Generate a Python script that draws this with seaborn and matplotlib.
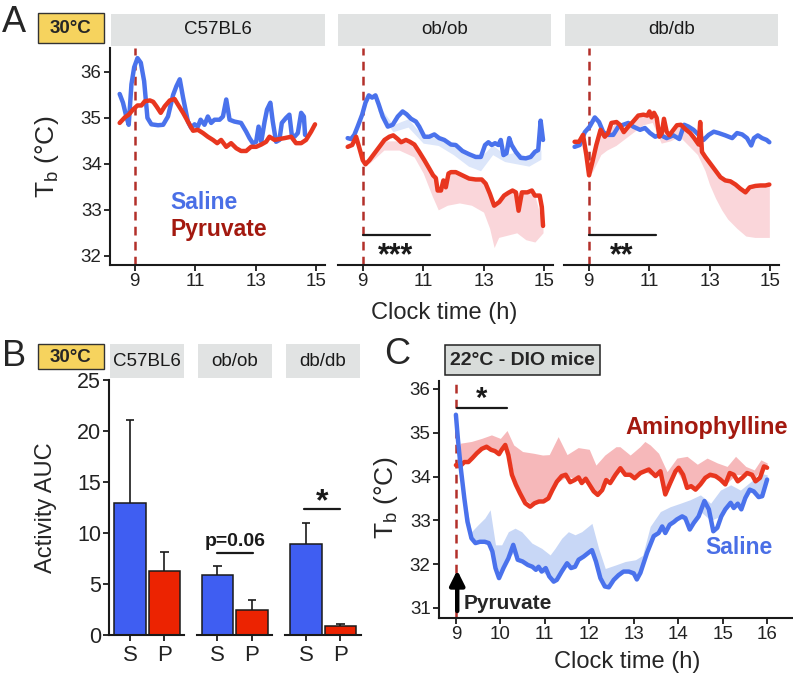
import numpy as np
import pandas as pd
import matplotlib
matplotlib.use('Agg')
import matplotlib.pyplot as plt
import seaborn as sns
from matplotlib.patches import Rectangle

# ------------------------- DATA -------------------------
strains = ['C57BL6', 'ob/ob', 'db/db']

# Panel A : C57BL6
a1_sal_t = [8.5,8.61,8.72,8.8,8.89,8.98,9.09,9.2,9.31,9.42,9.55,9.77,9.94,10.1,10.27,10.38,10.49,10.6,10.76,10.87,10.98,11.09,11.18,11.31,11.42,11.53,11.64,11.81,11.92,12.03,12.14,12.3,12.52,12.69,12.8,12.91,13.02,13.1,13.19,13.3,13.38,13.49,13.57,13.68,13.79,13.87,14.01,14.12,14.2,14.29,14.4,14.51,14.6,14.64]
a1_sal_v = [35.52,35.33,35.03,34.85,35.73,36.1,36.3,36.2,35.8,35.0,34.86,34.84,34.85,35.03,35.5,35.69,35.84,35.44,34.92,34.78,34.86,34.81,34.96,34.85,35.03,34.89,34.96,34.96,35.03,35.4,34.96,34.92,34.89,34.7,34.56,34.45,34.48,34.81,34.48,34.92,35.18,35.33,34.92,34.48,34.52,34.89,35.0,35.07,34.63,34.59,34.67,35.11,35.03,34.63]
a1_pyr_t = [8.5,8.67,8.8,8.94,9.09,9.22,9.33,9.5,9.61,9.72,9.86,9.99,10.16,10.32,10.43,10.6,10.76,10.93,11.09,11.26,11.42,11.59,11.73,11.86,12.03,12.19,12.36,12.52,12.69,12.85,13.02,13.19,13.35,13.46,13.63,13.79,13.96,14.18,14.34,14.51,14.67,14.84,14.97]
a1_pyr_v = [34.89,35.01,35.07,35.18,35.27,35.27,35.36,35.38,35.35,35.25,35.11,35.25,35.38,35.41,35.29,35.11,34.92,34.72,34.74,34.67,34.59,34.52,34.45,34.52,34.37,34.45,34.34,34.28,34.28,34.37,34.37,34.42,34.48,34.59,34.52,34.54,34.56,34.59,34.45,34.45,34.52,34.7,34.86]

# Panel A : ob/ob
a2_sal_t = [8.5,8.61,8.72,8.83,8.98,9.09,9.2,9.31,9.42,9.53,9.66,9.83,9.99,10.16,10.32,10.45,10.6,10.76,10.87,11.04,11.2,11.37,11.53,11.7,11.92,12.08,12.3,12.52,12.74,12.91,13.05,13.16,13.27,13.38,13.49,13.57,13.66,13.76,13.85,13.93,14.07,14.23,14.4,14.56,14.7,14.81,14.89,14.97]
a2_sal_v = [34.56,34.54,34.63,34.81,35.07,35.33,35.49,35.44,35.49,35.29,35.03,34.81,34.85,35.03,35.14,35.08,34.98,34.92,34.81,34.59,34.59,34.64,34.56,34.52,34.42,34.41,34.28,34.21,34.15,34.15,34.41,34.47,34.41,34.45,34.41,34.52,34.19,34.23,34.56,34.41,34.26,34.13,34.12,34.15,34.26,34.3,34.94,34.52]
a2_pyr_t = [8.5,8.65,8.78,8.89,9.0,9.09,9.22,9.39,9.55,9.72,9.88,10.01,10.16,10.27,10.43,10.56,10.71,10.87,11.04,11.2,11.33,11.42,11.48,11.59,11.67,11.75,11.84,11.92,12.08,12.3,12.52,12.74,12.94,13.07,13.21,13.35,13.52,13.68,13.82,13.96,14.07,14.16,14.27,14.45,14.6,14.7,14.86,14.93,14.97]
a2_pyr_v = [34.37,34.41,34.59,34.34,34.08,33.99,34.08,34.23,34.37,34.52,34.59,34.62,34.54,34.47,34.52,34.48,34.42,34.26,34.08,33.9,33.75,33.69,33.42,33.42,33.64,33.49,33.79,33.82,33.82,33.75,33.68,33.66,33.66,33.57,33.35,33.09,33.17,33.31,33.37,33.42,33.38,32.98,33.38,33.38,33.42,33.31,33.31,33.06,32.65]
a2_sal_rib_t = [9.5,10.0,10.5,11.0,11.5,12.0,12.5,12.9,13.3,13.7,14.1,14.5,14.9]
a2_sal_rib_hi = [35.3,34.85,34.98,34.6,34.56,34.41,34.21,34.15,34.41,34.2,34.26,34.14,34.3]
a2_sal_rib_lo = [35.15,34.7,34.8,34.45,34.4,34.2,33.95,33.85,34.2,34.05,34.0,33.95,34.1]
a2_pyr_rib_t = [9.2,9.7,10.2,10.7,11.0,11.3,11.5,11.8,12.2,12.6,13.0,13.2,13.35,13.5,13.8,14.1,14.4,14.7,14.97]
a2_pyr_rib_hi = [34.08,34.5,34.5,34.42,34.08,33.75,33.42,33.8,33.78,33.68,33.62,33.35,33.09,33.17,33.37,33.38,33.38,33.31,32.65]
a2_pyr_rib_lo = [34.0,34.3,34.3,34.15,33.8,33.3,33.0,33.1,33.15,33.1,32.95,32.6,32.18,32.4,32.45,32.5,32.35,32.3,32.5]

# Panel A : db/db
a3_sal_t = [8.53,8.7,8.87,9.03,9.2,9.34,9.48,9.64,9.81,9.98,10.14,10.31,10.47,10.7,10.86,11.03,11.2,11.36,11.58,11.8,12.0,12.16,12.3,12.47,12.64,12.8,12.97,13.14,13.3,13.52,13.75,13.91,14.08,14.24,14.38,14.47,14.6,14.74,14.89,14.98]
a3_sal_v = [34.37,34.41,34.69,34.81,35.01,34.91,34.69,34.63,34.63,34.81,34.85,34.89,34.81,34.74,34.78,34.67,34.59,34.63,34.56,34.62,34.54,34.85,34.81,34.74,34.63,34.52,34.63,34.7,34.67,34.62,34.56,34.67,34.64,34.56,34.4,34.56,34.62,34.56,34.52,34.47]
a3_pyr_t = [8.53,8.68,8.81,8.92,9.01,9.12,9.25,9.39,9.53,9.64,9.75,9.92,10.03,10.16,10.31,10.47,10.64,10.81,10.94,11.01,11.08,11.16,11.25,11.34,11.42,11.49,11.58,11.67,11.78,11.92,12.05,12.19,12.36,12.49,12.64,12.69,12.75,12.86,13.02,13.19,13.36,13.52,13.69,13.86,14.02,14.19,14.33,14.52,14.69,14.85,14.98]
a3_pyr_v = [34.48,34.48,34.63,34.19,33.75,34.04,34.41,34.74,34.59,34.67,34.89,34.91,34.85,34.69,34.81,34.92,35.05,35.07,35.05,35.14,35.01,35.11,35.0,34.59,34.67,34.98,34.7,34.62,34.72,34.84,34.85,34.76,34.67,34.56,34.42,34.91,34.26,34.15,34.01,33.86,33.71,33.64,33.62,33.55,33.46,33.38,33.49,33.52,33.53,33.53,33.55]
a3_pyr_rib_t = [9.1,9.4,9.6,9.9,10.2,10.5,10.8,11.1,11.4,11.7,12.0,12.3,12.6,12.85,13.0,13.2,13.4,13.6,13.9,14.2,14.5,14.8,14.98]
a3_pyr_rib_hi = [33.9,34.74,34.67,34.91,34.75,34.95,35.07,35.07,34.67,34.68,34.85,34.7,34.45,34.15,34.01,33.86,33.71,33.63,33.55,33.38,33.52,33.53,33.55]
a3_pyr_rib_lo = [33.8,34.2,34.3,34.4,34.55,34.7,34.85,34.9,34.45,34.5,34.6,34.4,34.2,33.85,33.55,33.25,33.0,32.8,32.6,32.43,32.4,32.4,32.4]

# Panel B : activity AUC
b_groups = ['S', 'P']
b_mean = {'C57BL6': [12.9, 6.3], 'ob/ob': [5.9, 2.5], 'db/db': [8.9, 0.9]}
b_err_top = {'C57BL6': [21.1, 8.1], 'ob/ob': [6.8, 3.4], 'db/db': [11.0, 1.1]}

# Panel C : 22°C DIO mice
c_sal_t = [9.0,9.05,9.11,9.19,9.26,9.35,9.44,9.54,9.65,9.74,9.82,9.89,9.97,10.07,10.18,10.29,10.39,10.5,10.62,10.72,10.8,10.86,10.93,11.02,11.1,11.2,11.27,11.38,11.5,11.59,11.68,11.76,11.87,11.97,12.06,12.15,12.25,12.35,12.44,12.55,12.66,12.77,12.89,13.0,13.07,13.15,13.3,13.45,13.56,13.64,13.71,13.81,13.9,13.97,14.09,14.16,14.26,14.35,14.46,14.59,14.69,14.79,14.88,14.97,15.06,15.18,15.25,15.34,15.42,15.51,15.61,15.7,15.81,15.89,16.0]
c_sal_v = [35.41,34.8,34.19,33.5,32.97,32.59,32.48,32.51,32.51,32.48,32.29,31.91,31.68,31.91,32.13,32.44,32.1,32.06,31.98,31.94,31.87,31.94,31.83,31.91,31.72,31.6,31.64,31.83,32.02,31.91,31.94,32.1,32.17,32.25,32.32,32.06,31.68,31.49,31.47,31.64,31.75,31.83,31.83,31.79,31.65,31.8,32.26,32.64,32.71,32.86,32.71,32.9,32.96,33.02,33.09,33.05,32.79,32.94,33.09,33.44,33.25,32.75,32.83,33.09,33.25,33.4,33.28,33.38,33.25,33.51,33.7,33.66,33.53,33.55,33.93]
c_ami_t = [9.0,9.09,9.19,9.28,9.37,9.47,9.58,9.69,9.79,9.88,9.97,10.03,10.11,10.18,10.26,10.35,10.44,10.56,10.67,10.77,10.87,10.97,11.08,11.17,11.27,11.38,11.47,11.57,11.67,11.76,11.83,11.92,12.0,12.1,12.19,12.29,12.38,12.47,12.59,12.7,12.81,12.92,13.02,13.15,13.34,13.49,13.6,13.71,13.82,13.94,14.01,14.11,14.2,14.29,14.39,14.5,14.61,14.72,14.84,14.95,15.06,15.16,15.25,15.34,15.44,15.55,15.66,15.74,15.84,15.93,16.0]
c_ami_v = [34.26,34.23,34.33,34.33,34.42,34.53,34.63,34.68,34.61,34.58,34.51,34.61,34.72,34.49,34.04,33.81,33.62,33.39,33.31,33.39,33.43,33.43,33.5,33.69,33.88,34.01,34.04,33.87,33.92,33.98,33.85,33.95,33.82,33.66,33.58,33.69,33.92,33.85,34.04,34.19,34.04,34.04,33.96,34.08,34.16,34.01,34.12,33.59,33.85,34.12,34.2,34.04,33.74,33.78,33.7,33.82,33.97,34.04,34.01,33.93,33.82,34.08,34.04,33.89,33.97,34.08,34.04,33.89,33.97,34.23,34.2]
c_sal_rib_t = [9.0,9.19,9.35,9.5,9.65,9.77,9.89,10.03,10.18,10.33,10.48,10.71,10.93,11.12,11.23,11.38,11.53,11.68,11.83,12.06,12.21,12.36,12.59,12.81,13.04,13.2,13.37,13.6,13.82,14.05,14.27,14.5,14.73,14.95,15.18,15.4,15.63,15.86,16.0]
c_sal_rib_hi = [35.41,33.6,32.74,32.9,33.05,33.24,32.44,32.44,32.74,32.82,32.74,32.48,32.36,32.21,32.36,32.59,32.74,32.67,32.74,32.93,32.36,31.9,31.98,32.06,32.1,32.2,32.86,33.2,33.31,33.39,33.47,33.58,33.39,33.69,33.81,33.69,33.88,34.07,34.04]
c_sal_rib_lo = [35.41,33.5,32.59,32.5,32.51,32.45,31.91,31.8,32.13,32.3,32.06,31.94,31.83,31.7,31.6,31.83,32.0,31.94,32.15,32.32,31.9,31.49,31.64,31.83,31.7,32.0,32.5,32.75,32.9,33.05,32.9,33.2,33.0,33.09,33.35,33.3,33.65,33.55,33.93]
c_ami_rib_t = [9.0,9.1,9.35,9.58,9.8,10.0,10.15,10.3,10.5,10.75,10.95,11.1,11.3,11.5,11.75,12.0,12.15,12.35,12.6,12.69,12.92,13.14,13.25,13.37,13.56,13.75,13.97,14.2,14.43,14.65,14.88,15.1,15.29,15.52,15.71,15.86,16.0]
c_ami_rib_hi = [34.26,34.76,34.8,34.87,34.95,34.87,35.05,34.72,34.57,34.53,34.49,34.5,34.91,34.5,34.66,34.62,34.26,34.49,34.68,34.68,34.49,34.68,34.8,34.72,34.53,34.11,34.42,34.46,34.28,34.42,34.31,34.23,34.46,34.23,34.15,34.38,34.31]
c_ami_rib_lo = [34.26,34.23,34.42,34.63,34.61,34.55,34.72,34.04,33.5,33.35,33.43,33.5,33.88,34.0,33.95,33.82,33.62,33.92,34.04,34.15,34.0,34.08,34.12,34.05,34.05,33.65,34.12,33.74,33.72,34.0,33.95,33.85,34.04,34.05,33.95,34.15,34.2]

a_xticks = [9, 11, 13, 15]
a_yticks = [32, 33, 34, 35, 36]
b_yticks = [0, 5, 10, 15, 20, 25]
c_xticks = [9, 10, 11, 12, 13, 14, 15, 16]
c_yticks = [31, 32, 33, 34, 35, 36]

# ------------------------- STYLE -------------------------
sns.set_style('ticks')
plt.rcParams['font.family'] = ['Liberation Sans', 'DejaVu Sans']
plt.rcParams['mathtext.default'] = 'regular'

BLUE = '#4A72EC'
RED = '#E8361F'
DASH = '#B3302A'
BLUE_RIB_A = '#DCE6FA'
RED_RIB_A = '#FAD6DA'
BLUE_RIB_C = '#C8D7F6'
RED_RIB_C = '#F6B8BA'
TXT_BLUE = '#4A6FE6'
TXT_RED = '#A3190F'
BAR_BLUE = '#3F5EF2'
BAR_RED = '#EC2301'
INK = '#1a1a1a'

W, H = 793, 676
fig = plt.figure(figsize=(W / 100, H / 100), dpi=100)


def ax_px(x0, y0, x1, y1):
    return fig.add_axes([x0 / W, 1 - y1 / H, (x1 - x0) / W, (y1 - y0) / H])


def rect_px(x0, y0, x1, y1, fc, ec='none', lw=0):
    fig.add_artist(Rectangle((x0 / W, 1 - y1 / H), (x1 - x0) / W, (y1 - y0) / H,
                             transform=fig.transFigure, facecolor=fc, edgecolor=ec, lw=lw))


def ftext(x, y, s, **kw):
    fig.text(x / W, 1 - y / H, s, **kw)


def style(ax, left=True, size=13):
    sns.despine(ax=ax, left=not left)
    for s in ['left', 'bottom']:
        ax.spines[s].set_color(INK)
        ax.spines[s].set_linewidth(1.5)
    ax.tick_params(axis='both', direction='out', length=4, width=1.3, color=INK,
                   labelsize=size, labelcolor='#222222', pad=2)
    if not left:
        ax.tick_params(axis='y', left=False, labelleft=False)
    ax.set_xlabel('')
    ax.set_ylabel('')


def line(ax, t, v, color):
    df = pd.DataFrame({'t': t, 'v': v})
    sns.lineplot(data=df, x='t', y='v', color=color, lw=3.2, ax=ax, zorder=3)


# ------------------------- PANEL A -------------------------
a_axes = [ax_px(110, 48, 325, 265), ax_px(338, 48, 553, 265), ax_px(564, 48, 779, 265)]
series_A = [
    (a1_sal_t, a1_sal_v, a1_pyr_t, a1_pyr_v, None, None, None),
    (a2_sal_t, a2_sal_v, a2_pyr_t, a2_pyr_v,
     (a2_sal_rib_t, a2_sal_rib_lo, a2_sal_rib_hi),
     (a2_pyr_rib_t, a2_pyr_rib_lo, a2_pyr_rib_hi), '***'),
    (a3_sal_t, a3_sal_v, a3_pyr_t, a3_pyr_v, None,
     (a3_pyr_rib_t, a3_pyr_rib_lo, a3_pyr_rib_hi), '**'),
]
for i, ax in enumerate(a_axes):
    st, sv, pt, pv, srib, prib, stars = series_A[i]
    if srib:
        ax.fill_between(srib[0], srib[1], srib[2], color=BLUE_RIB_A, lw=0, zorder=1)
    if prib:
        ax.fill_between(prib[0], prib[1], prib[2], color=RED_RIB_A, lw=0, zorder=1)
    ax.axvline(9, color=DASH, lw=1.8, ls=(0, (3.5, 2.5)), zorder=2)
    line(ax, st, sv, BLUE)
    line(ax, pt, pv, RED)
    ax.set_xlim(8.18, 15.3)
    ax.set_ylim(31.8, 36.52)
    ax.set_xticks(a_xticks)
    ax.set_yticks(a_yticks)
    style(ax, left=(i == 0), size=13.5)
    if stars:
        ax.plot([9.0, 11.22], [32.45, 32.45], color=INK, lw=1.6, zorder=4)
        ax.text(10.1, 32.0, stars, ha='center', va='center', fontsize=22,
                fontweight='bold', color=INK)

a_axes[0].text(10.19, 33.16, 'Saline', color=TXT_BLUE, fontsize=16.5,
               fontweight='bold', ha='left', va='center')
a_axes[0].text(10.19, 32.58, 'Pyruvate', color=TXT_RED, fontsize=16.5,
               fontweight='bold', ha='left', va='center')

# strips A
for (x0, x1), name in zip([(111, 325), (338, 551), (565, 778)], strains):
    rect_px(x0, 14, x1, 46, '#E1E3E3')
    ftext((x0 + x1) / 2, 30, name, ha='center', va='center', fontsize=13.5, color='#1a1a1a')

rect_px(38, 13, 104, 43, '#F6D35E', ec='#333333', lw=1.0)
ftext(71, 28.5, '30°C', ha='center', va='center', fontsize=13.5, fontweight='bold')
ftext(14, 22, 'A', ha='center', va='center', fontsize=26)
ftext(47, 157, 'T$_b$ (°C)', rotation=90, ha='center', va='center', fontsize=19)
ftext(444, 313, 'Clock time (h)', ha='center', va='center', fontsize=17)

# ------------------------- PANEL B -------------------------
b_axes = [ax_px(109.3, 380, 184.5, 635), ax_px(196.8, 380, 272, 635), ax_px(285.3, 380, 360.5, 635)]
for i, (ax, name) in enumerate(zip(b_axes, strains)):
    vals = b_mean[name]
    tops = b_err_top[name]
    sns.barplot(x=b_groups, y=vals, hue=b_groups, palette=[BAR_BLUE, BAR_RED],
                saturation=1, legend=False, width=0.92, edgecolor=INK, linewidth=1.1,
                ax=ax, zorder=2)
    ax.vlines([0, 1], vals, tops, color=INK, lw=1.2, zorder=1.5)
    ax.hlines(tops, [-0.12, 0.88], [0.12, 1.12], color=INK, lw=1.2, zorder=1.5)
    ax.set_xlim(-0.6, 1.58)
    ax.set_ylim(0, 25)
    ax.set_yticks(b_yticks)
    style(ax, left=(i == 0), size=15.5)
    ax.tick_params(axis='x', labelsize=16, pad=3)

b_axes[1].plot([0, 1.02], [8.05, 8.05], color=INK, lw=1.6, zorder=4)
b_axes[1].text(0.52, 9.15, 'p=0.06', ha='center', va='center', fontsize=14,
               fontweight='bold', color=INK)
b_axes[2].plot([-0.06, 1.0], [12.35, 12.35], color=INK, lw=1.6, zorder=4)
b_axes[2].text(0.47, 13.0, '*', ha='center', va='center', fontsize=23,
               fontweight='bold', color=INK)

for (x0, x1), name in zip([(110, 184), (198, 272), (286, 360)], strains):
    rect_px(x0, 344, x1, 378, '#E1E3E3')
    ftext((x0 + x1) / 2, 362, name, ha='center', va='center', fontsize=13.5, color='#1a1a1a')

rect_px(38, 344, 104, 369, '#F6D35E', ec='#333333', lw=1.0)
ftext(71, 357, '30°C', ha='center', va='center', fontsize=13.5, fontweight='bold')
ftext(14, 356, 'B', ha='center', va='center', fontsize=26)
ftext(46, 508, 'Activity AUC', rotation=90, ha='center', va='center', fontsize=17)

# ------------------------- PANEL C -------------------------
axc = ax_px(439, 381, 792, 618)
axc.fill_between(c_ami_rib_t, c_ami_rib_lo, c_ami_rib_hi, color=RED_RIB_C, lw=0, zorder=1)
axc.fill_between(c_sal_rib_t, c_sal_rib_lo, c_sal_rib_hi, color=BLUE_RIB_C, lw=0, zorder=1)
axc.axvline(9, color=DASH, lw=1.8, ls=(0, (3.5, 2.5)), zorder=2)
line(axc, c_ami_t, c_ami_v, RED)
line(axc, c_sal_t, c_sal_v, BLUE)
axc.set_xlim(8.62, 16.56)
axc.set_ylim(30.77, 36.18)
axc.set_xticks(c_xticks)
axc.set_yticks(c_yticks)
style(axc, left=True, size=13.5)

axc.plot([9.02, 10.15], [35.57, 35.57], color=INK, lw=1.6, zorder=4)
axc.text(9.58, 35.78, '*', ha='center', va='center', fontsize=21, fontweight='bold', color=INK)
axc.annotate('', xy=(9.03, 31.86), xytext=(9.03, 30.93),
             arrowprops=dict(arrowstyle='-|>', mutation_scale=22, lw=3.2, color='black',
                             shrinkA=0, shrinkB=0), zorder=5)
axc.text(9.17, 31.1, 'Pyruvate', ha='left', va='center', fontsize=15, fontweight='bold')
axc.text(14.63, 35.11, 'Aminophylline', ha='center', va='center', fontsize=17,
         fontweight='bold', color=TXT_RED)
axc.text(15.37, 32.37, 'Saline', ha='center', va='center', fontsize=16.5,
         fontweight='bold', color=TXT_BLUE)

rect_px(445, 345, 600, 375, '#D8DCDA', ec='#222222', lw=1.1)
ftext(522.5, 360, '22°C - DIO mice', ha='center', va='center', fontsize=14, fontweight='bold')
ftext(397, 355, 'C', ha='center', va='center', fontsize=26)
ftext(386, 498, 'T$_b$ (°C)', rotation=90, ha='center', va='center', fontsize=19)
ftext(627, 662, 'Clock time (h)', ha='center', va='center', fontsize=17)

fig.savefig('out.png', dpi=100)
